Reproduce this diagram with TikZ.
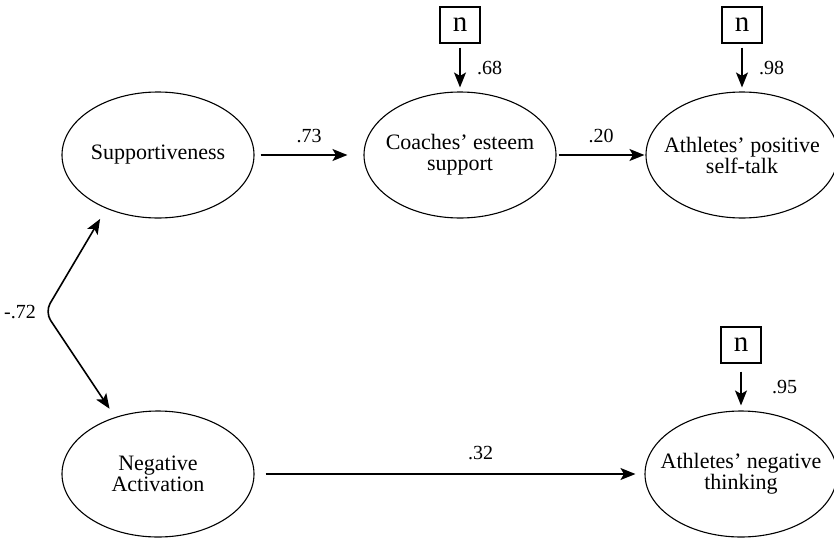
\documentclass[tikz,border=0pt]{standalone}
\usepackage{fontspec}
\setmainfont{Liberation Serif}
\usetikzlibrary{shapes.geometric}
\usetikzlibrary{arrows.meta}

\begin{document}
\begin{tikzpicture}[>={Stealth[length=15pt,width=12pt,inset=3.5pt]},line width=1.6pt,
	latent/.style={ellipse,draw,line width=1.1pt,minimum width=192pt,minimum height=126pt,
		align=center,inner xsep=-30pt,inner ysep=0pt,font=\fontsize{22}{21}\selectfont},
	resid/.style={draw,line width=1.1pt,minimum width=40pt,minimum height=36pt,inner sep=0pt,
		font=\fontsize{29}{29}\selectfont},
	coef/.style={font=\fontsize{20}{20}\selectfont}]
	
	\useasboundingbox (0,0) rectangle (834pt,-538pt);
	
	\node[latent] (sup) at (158pt,-155pt) {Supportiveness};
	\node[latent] (coach) [right of=sup, node distance=302pt] {Coaches' esteem\\support};
	\node[latent] (pos) [right of=coach, node distance=282pt] {Athletes' positive\\self-talk};
	\node[latent] (neg) [below of=sup, node distance=319pt] {Negative\\Activation};
	\node[latent] (negth) [right of=neg, node distance=583pt] {Athletes' negative\\thinking};
	
	\node[resid] (n1) [above of=coach, node distance=130pt] {n};
	\node[resid] (n2) [above of=pos, node distance=130pt] {n};
	\node[resid] (n3) [above of=negth, node distance=129pt] {n};
	
	% paths
	\draw[->,shorten <=6pt,shorten >=16pt] (sup) -- node[coef,above=8pt] {.73} (coach);
	\draw[->,shorten <=2pt,shorten >=1pt] (coach) -- node[coef,above=8pt] {.20} (pos);
	\draw[->,shorten <=11pt,shorten >=9pt] (neg) -- node[coef,above=10pt,pos=0.58] {.32} (negth);
	
	\draw[->,shorten <=4pt,shorten >=4pt] (n1) -- node[coef,right=13pt] {.68} (coach);
	\draw[->,shorten <=4pt,shorten >=4pt] (n2) -- node[coef,right=13pt] {.98} (pos);
	\draw[->,shorten <=8pt,shorten >=5pt] (n3) -- node[coef,right=27pt] {.95} (negth);
	
	% correlation
	\coordinate (bend) at (45pt,-312pt);
	\draw[<->,rounded corners=10pt,shorten <=12pt,shorten >=10pt] (sup.226) -- (bend) -- (neg.127);
	\node[coef] (corr) [left of=bend, node distance=25pt] {-.72};
	
\end{tikzpicture}
\end{document}
